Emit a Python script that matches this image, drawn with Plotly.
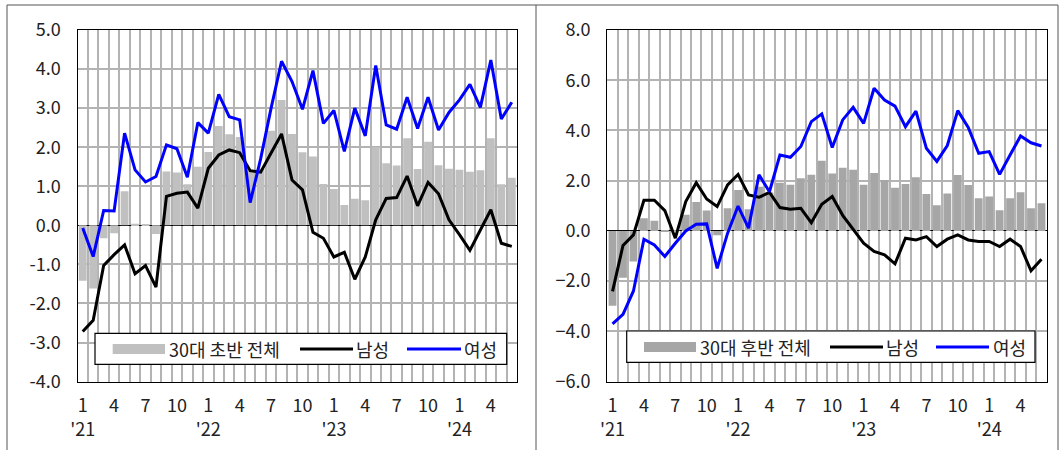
import plotly.graph_objects as go

# Monthly categories, Jan 2021 - Jun 2024
months = [f"{y}-{m:02d}" for y in (2021, 2022, 2023, 2024) for m in range(1, 13)][:42]

# Early 30s (30대 초반): employment-rate change, %p
early_total = [-1.42, -1.62, -0.33, -0.20, 0.87, 0.04, 0.01, -0.22, 1.38, 1.35, 1.05, 1.50,
               1.88, 2.54, 2.33, 2.26, 1.40, 1.45, 2.42, 3.21, 2.34, 1.87, 1.76, 1.06,
               0.93, 0.52, 0.68, 0.64, 2.00, 1.59, 1.53, 2.23, 1.44, 2.14, 1.54, 1.45,
               1.42, 1.37, 1.41, 2.23, 1.05, 1.22]
early_male = [-2.72, -2.43, -1.03, -0.75, -0.50, -1.24, -1.03, -1.58, 0.74, 0.82, 0.85, 0.44,
              1.46, 1.80, 1.93, 1.86, 1.40, 1.36, 1.85, 2.34, 1.16, 0.91, -0.18, -0.33,
              -0.81, -0.69, -1.38, -0.81, 0.14, 0.69, 0.71, 1.26, 0.50, 1.10, 0.81, 0.14,
              -0.24, -0.64, -0.12, 0.40, -0.46, -0.54]
early_female = [-0.07, -0.80, 0.38, 0.37, 2.36, 1.42, 1.11, 1.25, 2.06, 1.96, 1.23, 2.63,
                2.36, 3.35, 2.78, 2.70, 0.58, 1.70, 3.00, 4.20, 3.68, 2.97, 3.96, 2.61,
                2.94, 1.89, 3.00, 2.29, 4.09, 2.57, 2.46, 3.28, 2.48, 3.28, 2.44, 2.89,
                3.21, 3.61, 3.02, 4.23, 2.72, 3.15]

# Late 30s (30대 후반)
late_total = [-2.98, -1.86, -1.22, 0.50, 0.40, -0.03, 0.02, 0.64, 1.15, 0.81, -0.17, 0.90,
              1.63, 0.86, 1.76, 1.53, 1.92, 1.84, 2.10, 2.24, 2.79, 2.29, 2.52, 2.44,
              1.84, 2.31, 2.03, 1.72, 1.87, 2.14, 1.47, 1.02, 1.49, 2.23, 1.83, 1.30,
              1.37, 0.82, 1.30, 1.54, 0.90, 1.10]
late_male = [-2.41, -0.58, -0.16, 1.22, 1.22, 0.81, -0.29, 1.17, 1.92, 1.27, 0.97, 1.83,
             2.25, 1.43, 1.34, 1.53, 0.93, 0.86, 0.90, 0.33, 1.06, 1.37, 0.62, 0.08,
             -0.49, -0.82, -0.95, -1.31, -0.29, -0.36, -0.23, -0.62, -0.33, -0.16, -0.36, -0.42,
             -0.42, -0.62, -0.33, -0.62, -1.59, -1.13]
late_female = [-3.70, -3.32, -2.39, -0.33, -0.56, -1.02, -0.49, 0.00, 0.27, 0.28, -1.49, -0.09,
               0.99, 0.11, 2.23, 1.56, 3.02, 2.93, 3.36, 4.35, 4.66, 3.32, 4.42, 4.92,
               4.28, 5.68, 5.21, 4.97, 4.15, 4.77, 3.29, 2.77, 3.40, 4.79, 4.12, 3.09,
               3.16, 2.25, 3.02, 3.78, 3.51, 3.38]

# Axis tick values / labels
left_yticks = [-4, -3, -2, -1, 0, 1, 2, 3, 4, 5]
left_ylabels = ["-4.0", "-3.0", "-2.0", "-1.0", "0.0", "1.0", "2.0", "3.0", "4.0", "5.0"]
right_yticks = [-6, -4, -2, 0, 2, 4, 6, 8]
right_ylabels = ["\u22126.0", "\u22124.0", "\u22122.0", "0.0", "2.0", "4.0", "6.0", "8.0"]


def month_label(cat):
    y, m = cat.split("-")
    m = int(m)
    if m == 1:
        return f"1<br>'{y[2:]}"
    if m in (4, 7, 10):
        return str(m)
    return ""


xlabels = [month_label(c) for c in months]

W, H = 1060, 450
FONT = "Noto Sans CJK KR"


def px(x):
    return x / W


def py(y):
    return 1 - y / H


GRID = "#b3b3b3"

fig = go.Figure()

# Left panel
fig.add_trace(go.Bar(x=months, y=early_total, marker=dict(color="#c0c0c0", line=dict(width=0)),
                     xaxis="x", yaxis="y", showlegend=False))
fig.add_trace(go.Scatter(x=months, y=early_male, mode="lines", line=dict(color="#000000", width=3),
                         xaxis="x", yaxis="y", showlegend=False))
fig.add_trace(go.Scatter(x=months, y=early_female, mode="lines", line=dict(color="#0000ff", width=3),
                         xaxis="x", yaxis="y", showlegend=False))

# Right panel
fig.add_trace(go.Bar(x=months, y=late_total, marker=dict(color="#a6a6a6", line=dict(width=0)),
                     xaxis="x2", yaxis="y2", showlegend=False))
fig.add_trace(go.Scatter(x=months, y=late_male, mode="lines", line=dict(color="#000000", width=3),
                         xaxis="x2", yaxis="y2", showlegend=False))
fig.add_trace(go.Scatter(x=months, y=late_female, mode="lines", line=dict(color="#0000ff", width=3),
                         xaxis="x2", yaxis="y2", showlegend=False))

xaxis_common = dict(
    type="category", tickson="boundaries", tickmode="array",
    tickvals=months, ticktext=xlabels, ticks="", tickangle=0,
    showgrid=True, gridcolor=GRID, gridwidth=1.5,
    showline=True, mirror=True, linecolor="#000000", linewidth=1.3,
    tickfont=dict(family=FONT, size=18, color="#222222"),
    ticklabelstandoff=8, fixedrange=True,
)
yaxis_common = dict(
    tickmode="array", ticks="",
    showgrid=True, gridcolor=GRID, gridwidth=1.5,
    zeroline=True, zerolinecolor="#000000", zerolinewidth=1.2,
    showline=True, mirror=True, linecolor="#000000", linewidth=1.3,
    tickfont=dict(family=FONT, size=18, color="#222222"),
    ticklabelstandoff=12, fixedrange=True,
)

ydom = [py(381.6), py(30)]

fig.update_layout(
    width=W, height=H,
    margin=dict(l=0, r=0, t=0, b=0, autoexpand=False),
    paper_bgcolor="white", plot_bgcolor="white",
    bargap=0.25,
    font=dict(family=FONT, color="#222222"),
    xaxis=dict(domain=[px(77.5), px(517)], anchor="y", **xaxis_common),
    yaxis=dict(domain=ydom, anchor="x", range=[-4, 5],
               tickvals=left_yticks, ticktext=left_ylabels, **yaxis_common),
    xaxis2=dict(domain=[px(607.3), px(1046.7)], anchor="y2", **xaxis_common),
    yaxis2=dict(domain=ydom, anchor="x2", range=[-6, 8],
                tickvals=right_yticks, ticktext=right_ylabels, **yaxis_common),
)

shapes = []
annotations = []

# Outer frame and panel divider
shapes.append(dict(type="rect", xref="paper", yref="paper",
                   x0=px(7), x1=px(1058), y0=py(452), y1=py(5),
                   line=dict(color="#555555", width=1), fillcolor="rgba(0,0,0,0)", layer="above"))
shapes.append(dict(type="line", xref="paper", yref="paper",
                   x0=px(536), x1=px(536), y0=py(450), y1=py(5),
                   line=dict(color="#555555", width=1), layer="above"))


def add_legend(box, bar_color, bar_sw, bar_text, male_sw, male_text, fem_sw, fem_text, cy):
    x0, x1, y0, y1 = box
    shapes.append(dict(type="rect", xref="paper", yref="paper",
                       x0=px(x0), x1=px(x1), y0=py(y1), y1=py(y0),
                       line=dict(color="#000000", width=1.2), fillcolor="white", layer="above"))
    shapes.append(dict(type="rect", xref="paper", yref="paper",
                       x0=px(bar_sw[0]), x1=px(bar_sw[1]), y0=py(cy + 5), y1=py(cy - 5),
                       line=dict(width=0), fillcolor=bar_color, layer="above"))
    shapes.append(dict(type="line", xref="paper", yref="paper",
                       x0=px(male_sw[0]), x1=px(male_sw[1]), y0=py(cy), y1=py(cy),
                       line=dict(color="#000000", width=3), layer="above"))
    shapes.append(dict(type="line", xref="paper", yref="paper",
                       x0=px(fem_sw[0]), x1=px(fem_sw[1]), y0=py(cy), y1=py(cy),
                       line=dict(color="#0000ff", width=3), layer="above"))
    for tx, txt in ((bar_text[0], bar_text[1]), (male_text[0], male_text[1]), (fem_text[0], fem_text[1])):
        annotations.append(dict(xref="paper", yref="paper", x=px(tx), y=py(cy),
                                xanchor="left", yanchor="middle", showarrow=False,
                                text=txt, font=dict(family=FONT, size=18, color="#222222")))


add_legend((95, 506.7, 333.3, 364.3), "#c0c0c0", (112.7, 165), (167, "30대 초반 전체"),
           (300, 353), (354, "남성"), (407, 461), (462, "여성"), 349)
add_legend((626.7, 1035, 331, 362.3), "#a6a6a6", (644, 696), (697.5, "30대 후반 전체"),
           (830, 883), (884, "남성"), (936, 989), (991, "여성"), 347)

fig.update_layout(shapes=shapes, annotations=annotations)

fig.write_html("out.html")
